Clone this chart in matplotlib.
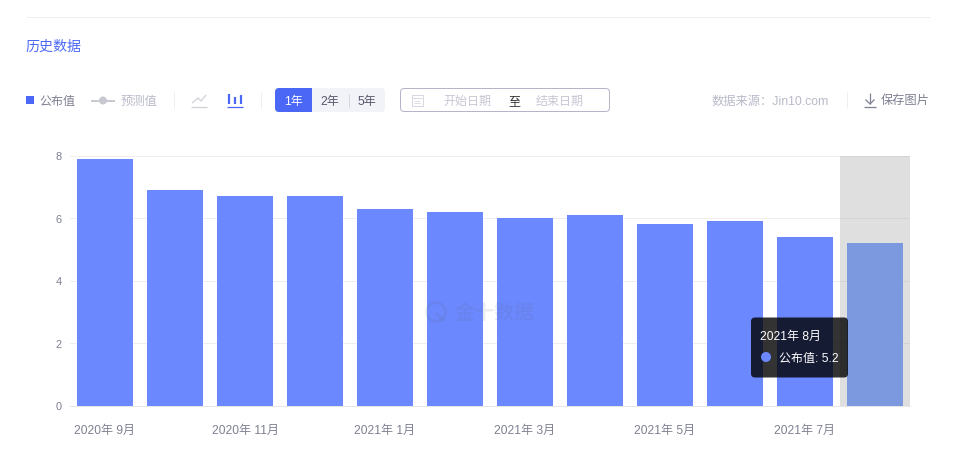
import matplotlib.pyplot as plt
from matplotlib.patches import FancyBboxPatch, Rectangle, Circle

plt.rcParams['font.family'] = ['Liberation Sans', 'Noto Sans CJK SC', 'DejaVu Sans']

# data
months = ['2020年 9月', '2020年 10月', '2020年 11月', '2020年 12月', '2021年 1月', '2021年 2月',
          '2021年 3月', '2021年 4月', '2021年 5月', '2021年 6月', '2021年 7月', '2021年 8月']
values = [7.9, 6.9, 6.7, 6.7, 6.3, 6.2, 6.0, 6.1, 5.8, 5.9, 5.4, 5.2]
y_ticks = [0, 2, 4, 6, 8]
hover_index = 11

BLUE = '#4a68f5'
BAR = '#6b88ff'
BAR_HOVER = '#7299ff'
GREY = '#7f8091'
LIGHT = '#b9bac8'
W, H = 959, 460


def px(size):
    return size * 72 / 100


fig = plt.figure(figsize=(W / 100, H / 100), dpi=100)

# chart area
ax = fig.add_axes([70 / W, 1 - 406.5 / H, 840 / W, 250 / H])
x = list(range(len(values)))
colors = [BAR_HOVER if i == hover_index else BAR for i in x]
ax.bar(x, values, width=0.8, color=colors, zorder=2)
ax.axvspan(hover_index - 0.5, hover_index + 0.5, color=(150 / 255, 150 / 255, 150 / 255),
           alpha=0.3, lw=0, zorder=3)
ax.set_xlim(-0.5, len(values) - 0.5)
ax.set_ylim(0, 8)
ax.set_yticks(y_ticks)
ax.set_xticks(x[::2])
ax.set_xticklabels(months[::2])
ax.grid(axis='y', color='#eeeeee', lw=0.72, zorder=1)
ax.set_axisbelow(True)
for s in ['top', 'right', 'left']:
    ax.spines[s].set_visible(False)
ax.spines['bottom'].set_color('#e6e6e6')
ax.spines['bottom'].set_linewidth(0.72)
ax.tick_params(axis='x', length=0, labelsize=px(12), labelcolor=GREY, pad=13)
ax.tick_params(axis='y', length=0, labelsize=px(11), labelcolor=GREY, pad=6)

# page furniture in pixel coordinates
ui = fig.add_axes([0, 0, 1, 1], zorder=5)
ui.set_xlim(0, W)
ui.set_ylim(H, 0)
ui.axis('off')
ui.patch.set_alpha(0)


def label(x0, y0, s, size=12, color=GREY, ha='left', **kw):
    ui.text(x0, y0 + 0.5, s, fontsize=px(size), color=color, ha=ha, va='center', **kw)


def seg(xs, ys, color=LIGHT, lw=0.72):
    ui.plot(xs, ys, color=color, lw=lw, solid_capstyle='butt')


seg([26, 930], [17.5, 17.5], '#eeeeee')
label(25.5, 46, '历史数据', 14, BLUE)

# legend
ui.add_patch(Rectangle((26, 97), 8, 8, color=BLUE, lw=0))
label(39.5, 101.5, '公布值', 12, GREY)
seg([91, 115], [101.5, 101.5], '#c8c8d0', 1.4)
ui.add_patch(Circle((103, 101.5), 4, color='#c8c8d0', lw=0))
label(121, 101.5, '预测值', 12.3, LIGHT)
seg([173.5, 173.5], [93, 109], '#eeeeee')
seg([260.5, 260.5], [93, 109], '#eeeeee')

# line / bar icons
seg([192, 198, 201, 206], [104, 99, 102, 96], '#d0d0d8', 0.9)
seg([191, 207], [107.5, 107.5], '#d0d0d8', 0.9)
for bx, top in [(229, 95), (235, 98), (241, 96)]:
    seg([bx, bx], [top, 105], BLUE, 1.6)
seg([227, 243], [107.5, 107.5], BLUE, 0.9)

# year buttons
ui.add_patch(FancyBboxPatch((275, 89), 110, 24, boxstyle='round,pad=0,rounding_size=4',
                            fc='#f2f3f8', ec='none', lw=0))
ui.add_patch(FancyBboxPatch((275, 89), 30, 24, boxstyle='round,pad=0,rounding_size=4',
                            fc=BLUE, ec='none', lw=0))
ui.add_patch(Rectangle((295, 89), 17, 24, color=BLUE, lw=0))
label(293.5, 101.5, '1年', 12, 'white', ha='center')
label(329.5, 101.5, '2年', 12, '#55566a', ha='center')
seg([348.5, 348.5], [95, 108], '#d5d6de')
label(366.5, 101.5, '5年', 12, '#55566a', ha='center')

# date range box
ui.add_patch(FancyBboxPatch((400.5, 89.5), 209, 23, boxstyle='round,pad=0,rounding_size=4',
                            fc='white', ec='#b4b5c8', lw=0.72))
ui.add_patch(Rectangle((411.5, 95.5), 11, 11, fc='white', ec='#d8d8e0', lw=0.72))
seg([412, 422], [98.5, 98.5], '#d8d8e0')
seg([414, 420], [101.5, 101.5], '#dcdce4')
seg([414, 420], [103.5, 103.5], '#dcdce4')
label(467, 101.5, '开始日期', 12, '#c6c7d3', ha='center')
label(514.5, 101.5, '至', 12, '#333333', ha='center')
label(560, 101.5, '结束日期', 12, '#c6c7d3', ha='center')

# source + save
label(829, 101.5, '数据来源：Jin10.com', 12.3, LIGHT, ha='right')
seg([846.5, 846.5], [93, 109], '#eeeeee')
seg([870, 870], [94, 105], GREY, 0.9)
seg([865.5, 870, 874.5], [100.5, 105, 100.5], GREY, 0.9)
seg([864, 876], [107.5, 107.5], GREY, 0.9)
label(881, 100, '保存图片', 12.2, GREY)

# watermark
wm = '#5b6b80'
ui.add_patch(Circle((436, 313), 9.5, fc='none', ec=wm, lw=2.2, alpha=0.12))
seg([436, 444], [314, 322], wm, 2.2)
ui.lines[-1].set_alpha(0.12)
ui.text(495, 313, '金十数据', fontsize=px(20), color=wm, alpha=0.12, ha='center', va='center',
        fontweight='bold')

# tooltip
ui.add_patch(FancyBboxPatch((751, 318.5), 97, 60, boxstyle='round,pad=0,rounding_size=4',
                            fc=(0, 0, 0, 0.8), ec='none', lw=0))
label(760, 336.5, months[hover_index], 12, 'white')
ui.add_patch(Circle((766, 358), 5, color=BAR, lw=0))
label(779, 358, f'公布值: {values[hover_index]}', 12, 'white')

plt.savefig('out.png', dpi=100)
plt.close()
